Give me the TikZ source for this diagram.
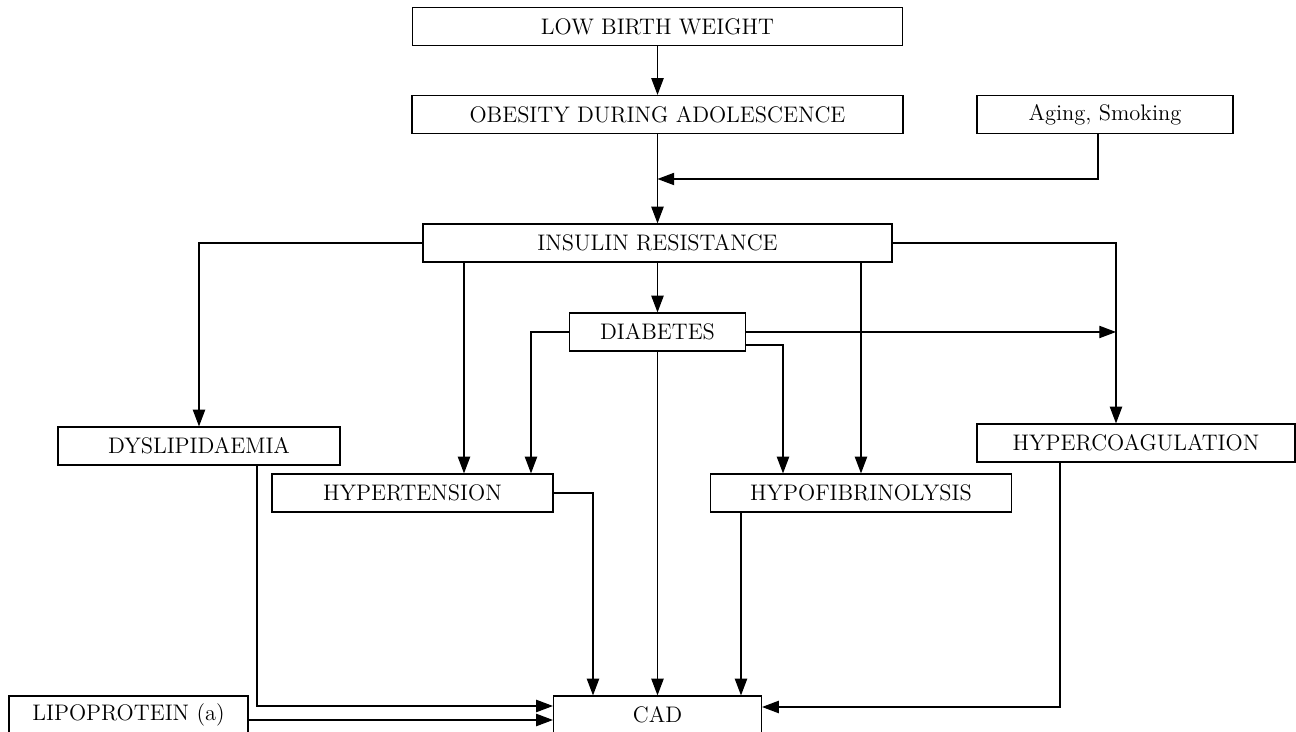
\documentclass[tikz,border=0pt]{standalone}
\usepackage{tikz}
\usetikzlibrary{arrows.meta}

\begin{document}
\begin{tikzpicture}[x=0.02cm,y=-0.02cm,
    box/.style={draw,line width=0.65pt,minimum height=38*0.02cm,inner sep=0pt,
      font=\fontsize{12.8}{15}\selectfont},
    arr/.style={-{Triangle[length=9.5pt,width=7pt]},line width=0.65pt}]
	\useasboundingbox (0,0) rectangle (1296,732);
	\clip (0,0) rectangle (1296,732);
	% boxes
	\node[box,minimum width=490*0.02cm] (lbw) at (657.5,26.5) {LOW BIRTH WEIGHT};
	\node[box,minimum width=491*0.02cm] (obe) at (657.5,114.5) {OBESITY DURING ADOLESCENCE};
	\node[box,minimum width=256*0.02cm] (age) at (1105,114.5) {Aging, Smoking};
	\node[box,minimum width=469*0.02cm] (ins) at (657.5,243) {INSULIN RESISTANCE};
	\node[box,minimum width=176*0.02cm] (dia) at (657.5,332) {DIABETES};
	\node[box,minimum width=282*0.02cm] (dys) at (199,446) {DYSLIPIDAEMIA};
	\node[box,minimum width=281*0.02cm] (hyt) at (412.5,493) {HYPERTENSION};
	\node[box,minimum width=301*0.02cm] (hyf) at (861,493) {HYPOFIBRINOLYSIS};
	\node[box,minimum width=318*0.02cm] (hyc) at (1136,443) {HYPERCOAGULATION};
	\node[box,minimum width=239*0.02cm] (lip) at (128.5,715) {LIPOPROTEIN (a)};
	\node[box,minimum width=208*0.02cm] (cad) at (657.5,715) {CAD};
	\coordinate (agej) at (657.5,179);
	\coordinate (hcx) at (1116,0);
	% main line
	\draw[arr] (lbw) -- (obe);
	\draw[arr] (obe) -- (ins);
	\draw[arr] (ins) -- (dia);
	\draw[arr] (dia) -- (cad);
	\draw[arr] (age.south -| 1098,0) |- (agej);
	% insulin resistance
	\draw[arr] (ins.west) -| (dys.north);
	\draw[arr] (ins.south -| 464,0) -- (hyt.north -| 464,0);
	\draw[arr] (ins.south -| hyf.north) -- (hyf.north);
	\draw[arr] (ins.east) -| (hyc.north -| hcx);
	% diabetes
	\draw[arr] (dia.west) -| (hyt.north -| 531,0);
	\draw[arr] (dia.east) -- (dia.east -| hcx);
	\draw[arr] (dia.east |- 0,345) -| (hyf.north -| 783,0);
	% into CAD
	\draw[arr] (hyt.east) -| (cad.north -| 593,0);
	\draw[arr] (hyf.south -| 741,0) -- (cad.north -| 741,0);
	\draw[arr] (hyc.south -| 1060,0) |- (cad.east |- 0,707);
	\draw[arr] (dys.south -| 257,0) |- (cad.west |- 0,706);
	\draw[arr] (lip.east |- 0,720) -- (cad.west |- 0,720);
\end{tikzpicture}
\end{document}
